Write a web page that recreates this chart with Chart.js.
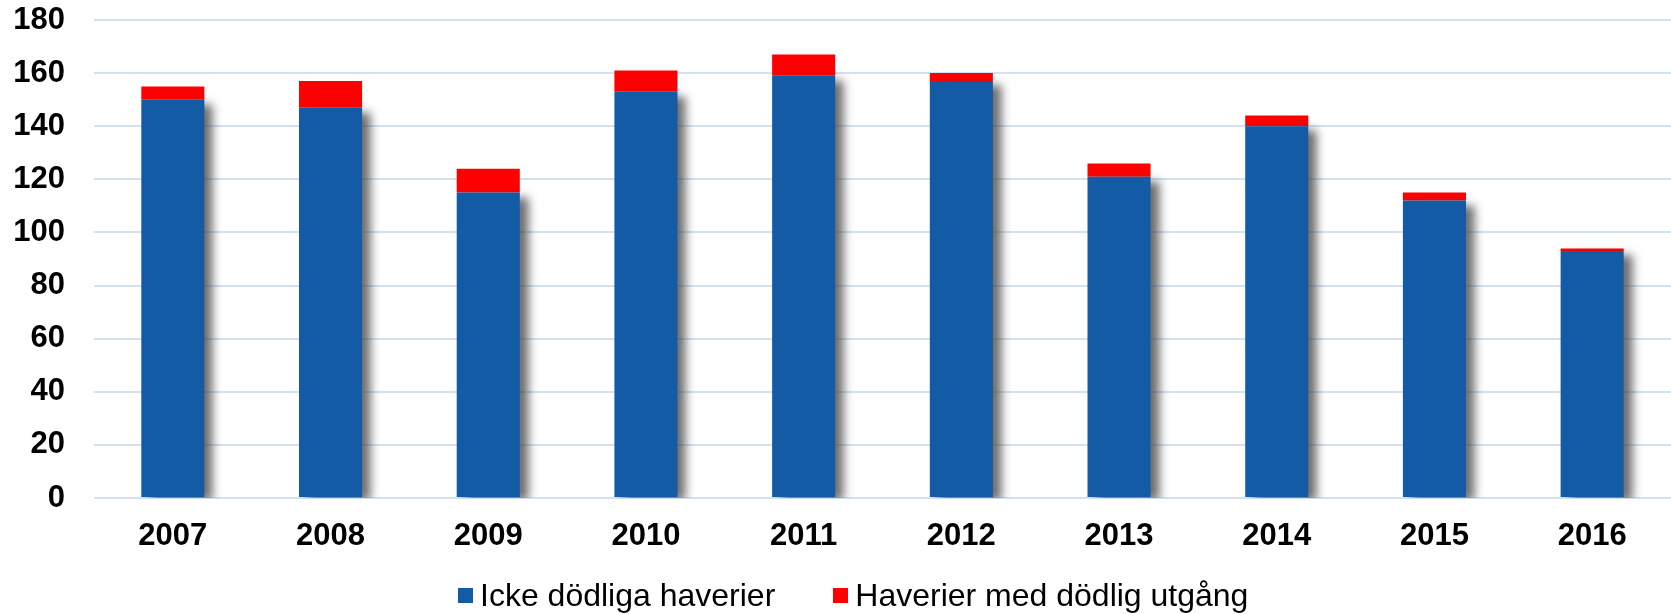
<!DOCTYPE html>
<html>
<head>
<meta charset="utf-8">
<script src="https://cdn.jsdelivr.net/npm/chart.js@4"></script>
<style>
  html, body { margin: 0; padding: 0; background: #fff; }
  #wrap { position: relative; width: 1671px; height: 614px; }
  #legend {
    position: absolute; left: 458px; top: 575px; display: flex; align-items: center;
    font-family: "Liberation Sans", Arial, sans-serif; font-size: 32px; color: #000;
    line-height: 40px; white-space: nowrap;
  }
  .item { display: flex; align-items: center; margin-right: 58px; }
  .box { width: 15px; height: 15px; margin-right: 7px; }
</style>
</head>
<body>
<div id="wrap">
  <canvas id="chart" width="1671" height="614"></canvas>
  <div id="legend"></div>
</div>
<script>
const years = ["2007", "2008", "2009", "2010", "2011", "2012", "2013", "2014", "2015", "2016"];
const nonFatal = [150, 147, 115, 153, 159, 157, 121, 140, 112, 93];
const fatal = [5, 10, 9, 8, 8, 3, 5, 4, 3, 1];
const yTicks = [0, 20, 40, 60, 80, 100, 120, 140, 160, 180];

const seriesNames = ["Icke dödliga haverier", "Haverier med dödlig utgång"];
const seriesColors = ["#135ca5", "#ff0000"];

// grey drop shadow on the blue bars only
const barShadow = {
  id: "barShadow",
  beforeDatasetDraw(chart, args) {
    if (args.index !== 0) return;
    const ctx = chart.ctx;
    ctx.save();
    ctx.shadowColor = "rgba(60,60,60,0.75)";
    ctx.shadowBlur = 9;
    ctx.shadowOffsetX = 9;
    ctx.shadowOffsetY = 4;
  },
  afterDatasetDraw(chart, args) {
    if (args.index !== 0) return;
    chart.ctx.restore();
  }
};

const font = { family: "'Liberation Sans', Arial, sans-serif", size: 31, weight: "bold" };

new Chart(document.getElementById("chart"), {
  type: "bar",
  data: {
    labels: years,
    datasets: [
      { label: seriesNames[0], data: nonFatal, backgroundColor: seriesColors[0] },
      { label: seriesNames[1], data: fatal, backgroundColor: seriesColors[1] }
    ]
  },
  options: {
    responsive: false,
    animation: false,
    layout: { padding: { top: 20, right: 0, bottom: 60, left: 0 } },
    datasets: { bar: { barPercentage: 0.4, categoryPercentage: 1.0, borderWidth: 0 } },
    plugins: { legend: { display: false }, tooltip: { enabled: false } },
    scales: {
      x: {
        stacked: true,
        afterFit(scale) {
          scale.height = 56;
          scale.paddingLeft = 0;
          scale.paddingRight = 0;
        },
        grid: { display: false, drawTicks: false },
        border: { display: false },
        ticks: { color: "#000", font: font, padding: 20, maxRotation: 0 }
      },
      y: {
        stacked: true,
        min: 0,
        max: 180,
        afterFit(scale) {
          scale.width = 94;
          scale.paddingTop = 0;
          scale.paddingBottom = 0;
        },
        afterBuildTicks(scale) { scale.ticks = yTicks.map(v => ({ value: v })); },
        grid: { color: "#d3e1f1", lineWidth: 2, drawTicks: false },
        border: { display: false },
        ticks: { color: "#000", font: font, padding: 29 }
      }
    }
  },
  plugins: [barShadow]
});

const legend = document.getElementById("legend");
seriesNames.forEach((name, i) => {
  const item = document.createElement("div");
  item.className = "item";
  item.innerHTML = '<span class="box" style="background:' + seriesColors[i] + '"></span><span>' + name + '</span>';
  legend.appendChild(item);
});
</script>
</body>
</html>
